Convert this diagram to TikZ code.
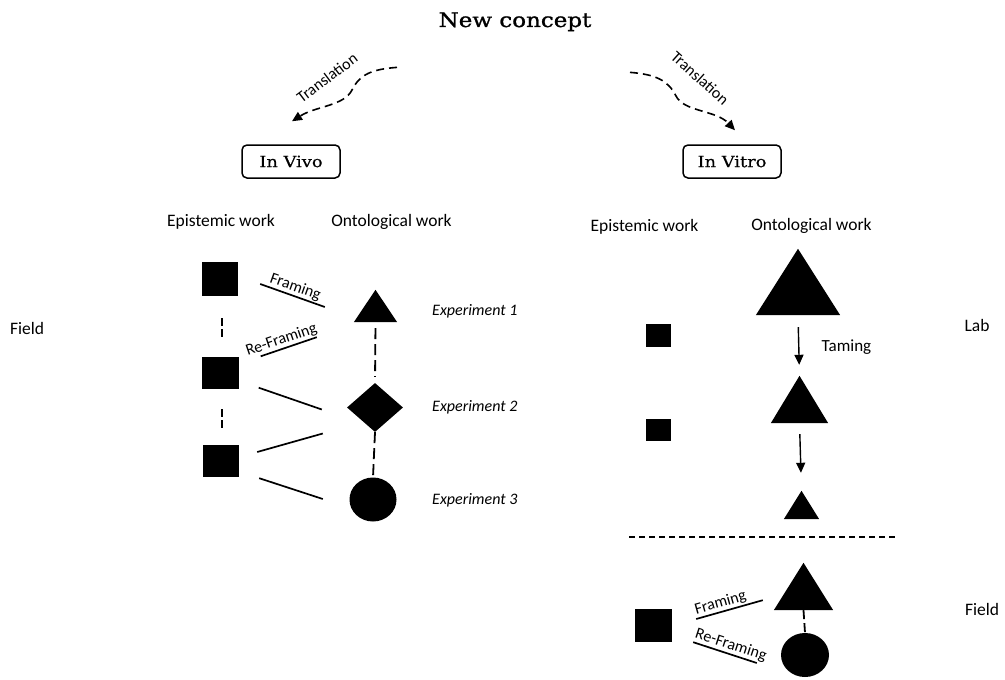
\documentclass[tikz,border=0pt]{standalone}
\usepackage{fontspec}
\setmainfont{Carlito}
\newfontfamily\slab[FakeStretch=1.15,FakeBold=1.2]{DejaVu Serif}
\newfontfamily\slabbox[FakeStretch=1.15,FakeBold=0.5]{DejaVu Serif}
\usetikzlibrary{shapes.geometric,arrows.meta}
\begin{document}
\begin{tikzpicture}[x=1pt,y=-1pt,
  lbl/.style={font=\fontsize{17.5}{20}\selectfont, inner sep=0pt},
  small/.style={font=\fontsize{16}{19}\selectfont, inner sep=1pt},
  expt/.style={font=\fontsize{16}{19}\selectfont\itshape, inner sep=0pt, anchor=base west},
  sqn/.style={fill=black, inner sep=0pt},
  trin/.style={inner sep=0pt},
  box/.style={draw, rounded corners=5pt, line width=1.5pt, minimum width=98pt, minimum height=33pt, inner sep=0pt, font=\slabbox\fontsize{15.5}{18}\selectfont},
  ln/.style={line width=1.7pt},
  vdash/.style={line width=1.8pt, dash pattern=on 8pt off 3pt},
  odash/.style={line width=1.8pt, dash pattern=on 11pt off 5pt},
  trans/.style={line width=1.6pt, dash pattern=on 8pt off 5pt, -{Triangle[length=10pt,width=9pt]}},
  tame/.style={line width=1.4pt, -{Triangle[length=10pt,width=9pt]}}
]
\useasboundingbox (0,0) rectangle (1005,680);

% title and boxes
\node[font=\slab\fontsize{20}{24}\selectfont, inner sep=0pt, anchor=base] (title) at (515,27) {New concept};
\node[box] (vivo) at (291,161.5) {In Vivo};
\node[box] (vitro) at (732,161.5) {In Vitro};

\draw[trans] ([shift={(-118,36)}]title.south) .. controls +(-25,2) and (360,74) .. (352,90)
  .. controls (344,106) and (316,106) .. ([shift={(1,-23)}]vivo.north);
\draw[trans] ([shift={(115,41)}]title.south) .. controls +(25,2) and (668,80) .. (676,96)
  .. controls (684,112) and (716,110) .. ([shift={(3,-14)}]vitro.north);
\node[small, rotate=37] (trl) at (327,78) {Translation};
\node[small, rotate=-42] (trr) at (700,78) {Translation};

% column headers
\node[lbl, anchor=base] (epl) at (221,226.5) {Epistemic work};
\node[lbl, anchor=base] (onl) at (391.5,226.5) {Ontological work};
\node[lbl, anchor=base] (epr) at (644.5,231.5) {Epistemic work};
\node[lbl, anchor=base] (onr) at (811.5,230) {Ontological work};

\node[lbl, anchor=base] (fieldl) at (27,334) {Field};
\node[lbl, anchor=base] (lab) at (977,331) {Lab};
\node[lbl, anchor=base] (fieldr) at (982,615) {Field};

% left (in vivo) diagram
\node[sqn, minimum width=36pt, minimum height=34pt] (sq1) at (220,279) {};
\node[sqn, minimum width=37pt, minimum height=32pt] (sq2) at (220.5,372.5) {};
\node[sqn, minimum width=36pt, minimum height=32pt] (sq3) at (221,461) {};
\node[trin, minimum width=43pt, minimum height=32pt] (t1) at (375.5,306) {};
\fill (t1.north) -- (t1.south west) -- (t1.south east) -- cycle;
\node[diamond, fill=black, inner sep=0pt, minimum width=56pt, minimum height=49pt] (d1) at (375,407.5) {};
\node[ellipse, fill=black, inner sep=0pt, minimum width=47pt, minimum height=44pt] (c1) at (373,499.5) {};

\node[expt] (e1) at (432,315.5) {Experiment 1};
\node[expt] (e2) at (432,411) {Experiment 2};
\node[expt] (e3) at (432,504) {Experiment 3};

\draw[vdash, shorten <=22pt, shorten >=18.5pt] ([xshift=2pt]sq1.south) -- ([xshift=1.5pt]sq2.north);
\draw[vdash, shorten <=20.5pt, shorten >=17pt] ([xshift=1.5pt]sq2.south) -- ([xshift=1pt]sq3.north);
\draw[odash, shorten <=6pt, shorten >=6pt] (t1.south) -- (d1.north);
\draw[odash] (d1.south) -- (c1.north);

\draw[ln] ([shift={(22,5)}]sq1.east) -- node[small, midway, sloped, above] (fr1) {Framing} ([shift={(-29,1)}]t1.west);
\draw[ln] ([shift={(21.5,0)}]sq2.north east) -- node[small, pos=0.42, sloped, above] (rf1) {Re-Framing} ([shift={(-37,15)}]t1.south west);
\draw[ln] ([shift={(19.5,-1)}]sq2.south east) -- ([shift={(-25,2)}]d1.west);
\draw[ln] ([shift={(18,-9)}]sq3.east) -- ([shift={(-24,26)}]d1.west);
\draw[ln] ([shift={(20,1)}]sq3.south east) -- ([shift={(-26.5,-0.5)}]c1.west);

% right (in vitro) diagram
\node[trin, minimum width=84pt, minimum height=66pt] (T1) at (798,282) {};
\fill (T1.north) -- (T1.south west) -- (T1.south east) -- cycle;
\node[trin, minimum width=57pt, minimum height=47pt] (T2) at (799.5,399.5) {};
\fill (T2.north) -- (T2.south west) -- (T2.south east) -- cycle;
\node[trin, minimum width=35pt, minimum height=28pt] (T3) at (801.5,505) {};
\fill (T3.north) -- (T3.south west) -- (T3.south east) -- cycle;
\node[sqn, minimum width=25pt, minimum height=23pt] (sqa) at (658.5,335.5) {};
\node[sqn, minimum width=25pt, minimum height=22pt] (sqb) at (658.5,430) {};

\draw[tame, shorten <=12pt, shorten >=11pt] (T1.south) -- (T2.north);
\draw[tame, shorten <=11pt, shorten >=18pt] (T2.south) -- (T3.north);
\node[small, font=\fontsize{17}{20}\selectfont, anchor=base] (taming) at (846.5,351.5) {Taming};

\coordinate (dl1) at (629,537);
\coordinate (dl2) at (895,537);
\draw[line width=1.5pt, dash pattern=on 6pt off 4pt] (dl1) -- (dl2);

% bottom (field)
\node[trin, minimum width=59pt, minimum height=47pt] (T4) at (803.5,586.5) {};
\fill (T4.north) -- (T4.south west) -- (T4.south east) -- cycle;
\node[sqn, minimum width=37pt, minimum height=33pt] (sqc) at (653.5,625.5) {};
\node[ellipse, fill=black, inner sep=0pt, minimum width=48pt, minimum height=44pt] (c2) at (805,655) {};
\draw[line width=1.8pt, dash pattern=on 9pt off 4pt] (T4.south) -- (c2.north);

\draw[ln] ([shift={(24,-6.5)}]sqc.east) -- node[small, pos=0.4, sloped, above] (fr2) {Framing} ([shift={(-11,-10)}]T4.south west);
\draw[ln] ([shift={(21,0)}]sqc.south east) -- node[small, pos=0.55, sloped, above] (rf2) {Re-Framing} ([shift={(-24,8)}]c2.west);
\end{tikzpicture}
\end{document}
